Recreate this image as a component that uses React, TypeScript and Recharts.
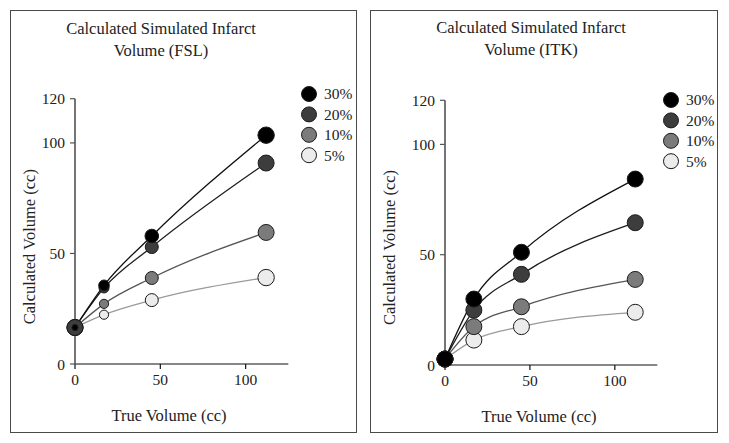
import React from 'react';
import { LineChart, Line, XAxis, YAxis, Legend, Label } from 'recharts';

// ---- data ----
const trueVolume = [0, 17, 45, 112];
const fsl30 = [16.5, 35.6, 57.9, 103.5];
const fsl20 = [16.5, 34.4, 52.9, 90.9];
const fsl10 = [16.5, 27.2, 38.9, 59.5];
const fsl5 = [16.5, 22.3, 28.9, 39.1];
const itk30 = [2.7, 29.9, 51.1, 84.3];
const itk20 = [2.7, 24.9, 41.1, 64.5];
const itk10 = [2.7, 17.4, 26.4, 38.8];
const itk5 = [2.7, 11.3, 17.4, 23.9];
const seriesNames = ['30%', '20%', '10%', '5%'];
const seriesKeys = ['s30', 's20', 's10', 's5'];
const xTicks = [0, 50, 100];
const yTicks = [0, 50, 100, 120];

const fslData = trueVolume.map((x, i) => ({ x, s30: fsl30[i], s20: fsl20[i], s10: fsl10[i], s5: fsl5[i] }));
const itkData = trueVolume.map((x, i) => ({ x, s30: itk30[i], s20: itk20[i], s10: itk10[i], s5: itk5[i] }));

// ---- styles ----
const FONT = '"Liberation Serif", "Times New Roman", serif';
const fills = ['#000000', '#3d3d3d', '#7b7b7b', '#ececec'];
const lineColors = ['#111111', '#1e1e1e', '#555555', '#9a9a9a'];
const markerStroke = '#1a1a1a';

type PanelProps = {
  left: number;
  top: number;
  width: number;
  height: number;
  data: any[];
  margin: { top: number; right: number; bottom: number; left: number };
  radii: number[][]; // per series (30,20,10,5) per index
  title: string[];
  titleCenter: [number, number];
  xLabel: [number, number];
  yLabel: [number, number];
  legendPos: [number, number];
};

const makeDot = (fill: string, radii: number[]) => (props: any) => {
  const { cx, cy, index } = props;
  if (cx == null || cy == null) return <g key={`n-${index}`} />;
  return (
    <circle
      key={`d-${index}`}
      cx={cx}
      cy={cy}
      r={radii[index]}
      fill={fill}
      stroke={markerStroke}
      strokeWidth={1}
    />
  );
};

const LegendBox = () => (
  <svg width={70} height={90} style={{ display: 'block', overflow: 'visible' }}>
    {seriesNames.map((name, i) => {
      const cy = 12 + i * 20.4;
      return (
        <g key={name}>
          <circle cx={10} cy={cy} r={7.5} fill={fills[i]} stroke={markerStroke} strokeWidth={1} />
          <text x={25} y={cy} dy="0.35em" fontFamily={FONT} fontSize={15.5} fill="#222">
            {name}
          </text>
        </g>
      );
    })}
  </svg>
);

const Panel = (p: PanelProps) => {
  const order = [3, 2, 1, 0]; // draw 5% first, 30% on top
  return (
    <>
      <div
        style={{
          position: 'absolute',
          left: p.left,
          top: p.top,
          width: p.width,
          height: p.height,
          boxSizing: 'border-box',
          border: '1.5px solid #4a4a4a',
          pointerEvents: 'none',
        }}
      />
      <div
        style={{
          position: 'absolute',
          left: p.titleCenter[0] - 150,
          top: p.titleCenter[1] - 11,
          width: 300,
          textAlign: 'center',
          fontFamily: FONT,
          fontSize: 16.5,
          lineHeight: '22px',
          color: '#222',
        }}
      >
        {p.title.map((t) => (
          <div key={t}>{t}</div>
        ))}
      </div>
      <div style={{ position: 'absolute', left: p.left, top: p.top }}>
        <LineChart width={p.width} height={p.height} data={p.data} margin={p.margin}>
          <XAxis
            dataKey="x"
            type="number"
            domain={[0, 125]}
            ticks={xTicks}
            interval={0}
            height={30}
            tickSize={5}
            tickMargin={5}
            axisLine={{ stroke: '#111', strokeWidth: 1.2 }}
            tickLine={{ stroke: '#111', strokeWidth: 1.2 }}
            tick={{ fill: '#222', fontSize: 15.5, fontFamily: FONT }}
          >
            <Label
              content={() => (
                <text
                  x={p.xLabel[0]}
                  y={p.xLabel[1]}
                  dy="0.35em"
                  textAnchor="middle"
                  fontFamily={FONT}
                  fontSize={16.5}
                  fill="#222"
                >
                  True Volume (cc)
                </text>
              )}
            />
          </XAxis>
          <YAxis
            type="number"
            domain={[0, 120]}
            ticks={yTicks}
            interval={0}
            width={40}
            tickSize={5}
            tickMargin={5}
            axisLine={{ stroke: '#666', strokeWidth: 1.8 }}
            tickLine={{ stroke: '#555', strokeWidth: 1.2 }}
            tick={{ fill: '#222', fontSize: 15.5, fontFamily: FONT }}
          >
            <Label
              content={() => (
                <text
                  x={p.yLabel[0]}
                  y={p.yLabel[1]}
                  dy="0.35em"
                  textAnchor="middle"
                  transform={`rotate(-90 ${p.yLabel[0]} ${p.yLabel[1]})`}
                  fontFamily={FONT}
                  fontSize={16.5}
                  fill="#222"
                >
                  Calculated Volume (cc)
                </text>
              )}
            />
          </YAxis>
          <Legend
            layout="vertical"
            align="center"
            verticalAlign="middle"
            content={() => <LegendBox />}
            wrapperStyle={{ left: p.legendPos[0], top: p.legendPos[1], width: 70, height: 90 }}
          />
          {order.map((si) => (
            <Line
              key={seriesKeys[si]}
              name={seriesNames[si]}
              dataKey={seriesKeys[si]}
              type="monotone"
              stroke={lineColors[si]}
              strokeWidth={1.3}
              dot={makeDot(fills[si], p.radii[si])}
              activeDot={false}
              isAnimationActive={false}
            />
          ))}
        </LineChart>
      </div>
    </>
  );
};

export default function App() {
  const leftRadii = [
    [3, 5.3, 6.8, 8.2],
    [8, 5, 6.5, 8],
    [8, 4.6, 6.5, 8],
    [8, 4.6, 6.5, 8.2],
  ];
  const rightRadii = [
    [8, 8, 8, 8],
    [8, 8, 8, 8],
    [8, 8, 8, 8],
    [8, 8, 8, 8],
  ];
  return (
    <div
      style={{
        position: 'absolute',
        left: 0,
        top: 0,
        width: 729,
        height: 443,
        background: '#fff',
        overflow: 'hidden',
      }}
    >
      <Panel
        left={10}
        top={10}
        width={347}
        height={423}
        data={fslData}
        margin={{ top: 88.7, right: 68.7, bottom: 39, left: 25 }}
        radii={leftRadii}
        title={['Calculated Simulated Infarct', 'Volume (FSL)']}
        titleCenter={[161, 29]}
        xLabel={[159, 405]}
        yLabel={[19, 236.7]}
        legendPos={[289.3, 72]}
      />
      <Panel
        left={370}
        top={10}
        width={348}
        height={423}
        data={itkData}
        margin={{ top: 90.3, right: 60.7, bottom: 38, left: 35 }}
        radii={rightRadii}
        title={['Calculated Simulated Infarct', 'Volume (ITK)']}
        titleCenter={[531, 28]}
        xLabel={[169, 406.5]}
        yLabel={[19, 237.5]}
        legendPos={[290.7, 78]}
      />
    </div>
  );
}
